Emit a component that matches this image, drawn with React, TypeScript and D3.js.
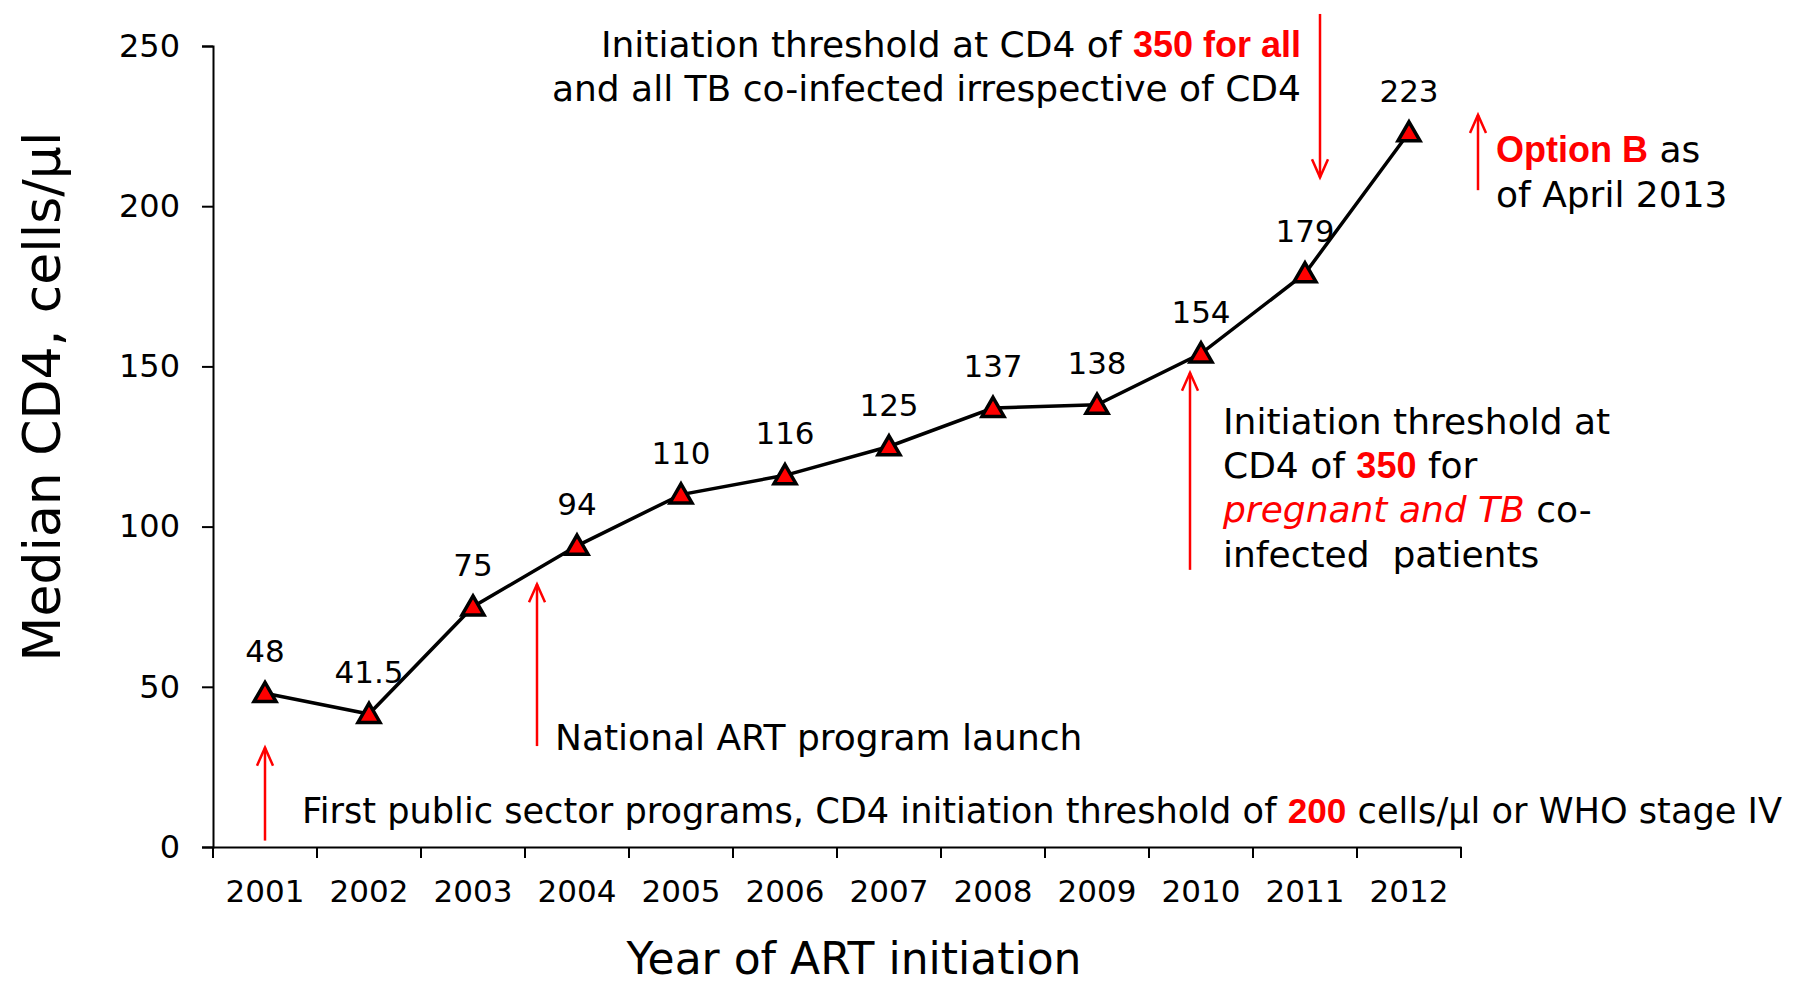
import React, { useEffect, useRef } from "react";
import * as d3 from "d3";

const years = ["2001", "2002", "2003", "2004", "2005", "2006", "2007", "2008", "2009", "2010", "2011", "2012"];
const medianCd4 = [48, 41.5, 75, 94, 110, 116, 125, 137, 138, 154, 179, 223];
const yTicks = [0, 50, 100, 150, 200, 250];

const FONT = "'Century Gothic', 'DejaVu Sans', sans-serif";
const BOLD_FONT = "'Liberation Sans', Arial, sans-serif";
const RED = "#ff0000";

const App = () => {
  const width = 1799;
  const height = 983;
  const ref = useRef(null);

  useEffect(() => {
    const svg = d3.select(ref.current);
    svg.selectAll("*").remove();

    const margin = { top: 46, right: 338, bottom: 136, left: 213 };
    const x = d3
      .scaleBand()
      .domain(years)
      .range([margin.left, width - margin.right]);
    const y = d3
      .scaleLinear()
      .domain([0, 250])
      .range([height - margin.bottom, margin.top]);
    const cx = (i) => x(years[i]) + x.bandwidth() / 2;

    // y axis
    const yAxis = svg
      .append("g")
      .attr("transform", `translate(${margin.left},0)`)
      .call(d3.axisLeft(y).tickValues(yTicks).tickSize(11).tickPadding(22));
    yAxis.select(".domain").attr("stroke", "#000").attr("stroke-width", 2);
    yAxis.selectAll(".tick line").attr("stroke", "#000").attr("stroke-width", 2);
    yAxis
      .selectAll(".tick text")
      .attr("font-family", FONT)
      .attr("font-size", 32)
      .attr("fill", "#000");

    // x axis, ticks between the years
    const xAxis = svg
      .append("g")
      .attr("transform", `translate(0,${y(0)})`)
      .call(d3.axisBottom(x).tickSize(0).tickPadding(33));
    xAxis.select(".domain").attr("stroke", "#000").attr("stroke-width", 2);
    xAxis
      .selectAll(".tick text")
      .attr("font-family", FONT)
      .attr("font-size", 31)
      .attr("fill", "#000");
    xAxis
      .selectAll("line.sep")
      .data(d3.range(years.length + 1))
      .enter()
      .append("line")
      .attr("class", "sep")
      .attr("x1", (d) => margin.left + d * x.step())
      .attr("x2", (d) => margin.left + d * x.step())
      .attr("y1", 0)
      .attr("y2", 11)
      .attr("stroke", "#000")
      .attr("stroke-width", 2);

    // axis titles
    svg
      .append("text")
      .attr("transform", `translate(60,${(y(0) + y(250)) / 2 - 50}) rotate(-90)`)
      .attr("text-anchor", "middle")
      .attr("font-family", FONT)
      .attr("font-size", 52)
      .text("Median CD4, cells/µl");
    svg
      .append("text")
      .attr("x", 854)
      .attr("y", 974)
      .attr("text-anchor", "middle")
      .attr("font-family", FONT)
      .attr("font-size", 44)
      .text("Year of ART initiation");

    // red annotation arrows: [year index, x offset, from value, to value]
    const arrows = [
      [0, 0, 2, 31],
      [3, -40, 31.5, 82],
      [9, -11, 86.5, 148],
      [10, 15, 260, 209],
      [11, 69, 205, 228.5],
    ];
    const ag = svg.append("g").attr("stroke", RED).attr("stroke-width", 2.5).attr("fill", "none");
    arrows.forEach(([i, dx, v0, v1]) => {
      const ax = cx(i) + dx;
      const y0 = y(v0);
      const y1 = y(v1);
      const dir = y1 < y0 ? 1 : -1;
      ag.append("line").attr("x1", ax).attr("x2", ax).attr("y1", y0).attr("y2", y1);
      ag.append("path").attr(
        "d",
        `M${ax - 8},${y1 + dir * 18}L${ax},${y1}L${ax + 8},${y1 + dir * 18}`
      );
    });

    // line + markers
    const line = d3
      .line()
      .x((d, i) => cx(i))
      .y((d) => y(d));
    svg
      .append("path")
      .datum(medianCd4)
      .attr("fill", "none")
      .attr("stroke", "#000")
      .attr("stroke-width", 3.5)
      .attr("d", line);

    svg
      .append("g")
      .selectAll("path")
      .data(medianCd4)
      .enter()
      .append("path")
      .attr("transform", (d, i) => `translate(${cx(i)},${y(d) + 2})`)
      .attr("d", d3.symbol(d3.symbolTriangle, 210)())
      .attr("fill", RED)
      .attr("stroke", "#000")
      .attr("stroke-width", 3.5)
      .attr("stroke-linejoin", "miter");

    svg
      .append("g")
      .selectAll("text")
      .data(medianCd4)
      .enter()
      .append("text")
      .attr("x", (d, i) => cx(i))
      .attr("y", (d) => y(d) - 31)
      .attr("text-anchor", "middle")
      .attr("font-family", FONT)
      .attr("font-size", 31)
      .text((d) => d);

    // annotation texts
    const addText = (tx, ty, parts, anchor = "start", fit = 0) => {
      const t = svg
        .append("text")
        .attr("x", tx)
        .attr("y", ty)
        .attr("text-anchor", anchor)
        .attr("font-family", FONT)
        .attr("font-size", fit ? 35 : 36);
      if (fit) t.attr("textLength", fit).attr("lengthAdjust", "spacingAndGlyphs");
      parts.forEach(([s, style]) => {
        const sp = t.append("tspan").text(s);
        if (style === "b") sp.attr("fill", RED).attr("font-weight", "bold").attr("font-family", BOLD_FONT);
        if (style === "i") sp.attr("fill", RED).attr("font-style", "italic");
      });
    };

    addText(1301, 57, [["Initiation threshold at CD4 of "], ["350 for all", "b"]], "end");
    addText(1301, 101, [["and all TB co-infected irrespective of CD4"]], "end");
    addText(1496, 162, [["Option B", "b"], [" as"]]);
    addText(1496, 207, [["of April 2013"]]);
    addText(1223, 434, [["Initiation threshold at"]]);
    addText(1223, 478, [["CD4 of "], ["350", "b"], [" for"]]);
    addText(1223, 522, [["pregnant and TB", "i"], [" co-"]]);
    addText(1223, 567, [["infected\u00a0 patients"]]);
    addText(555, 750, [["National ART program launch"]]);
    addText(
      302,
      823,
      [
        ["First public sector programs, CD4 initiation threshold of "],
        ["200", "b"],
        [" cells/µl or WHO stage IV"],
      ],
      "start",
      1480
    );
  }, [height, width]);

  return (
    <svg
      ref={ref}
      width={width}
      height={height}
      style={{ position: "absolute", left: 0, top: 0, background: "#fff" }}
    />
  );
};

export default App;
